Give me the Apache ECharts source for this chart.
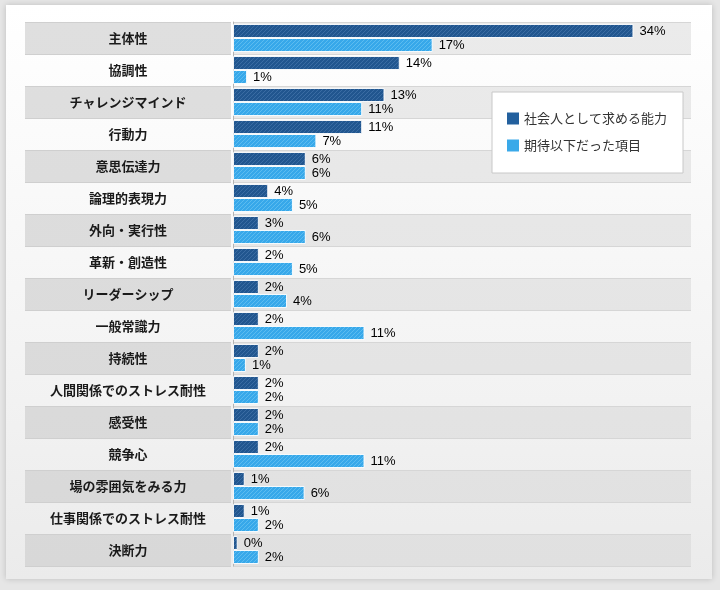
<!DOCTYPE html>
<html>
<head>
<meta charset="utf-8">
<script src="https://cdn.jsdelivr.net/npm/echarts@6/dist/echarts.min.js"></script>
<style>
  html, body { margin: 0; padding: 0; background: #e6e6e6; }
  #wrap { position: relative; width: 720px; height: 590px; overflow: hidden; }
  #panel {
    position: absolute; left: 6px; top: 5px; width: 706px; height: 574px;
    background: linear-gradient(#ffffff 0%, #f4f4f4 60%, #ebebeb 100%);
    box-shadow: 0 0 6px rgba(0, 0, 0, 0.18);
  }
  #main { position: absolute; left: 0; top: 0; width: 720px; height: 590px; }
</style>
</head>
<body>
<div id="wrap">
  <div id="panel"></div>
  <div id="main"></div>
</div>
<script>
// 項目
var categories = ['主体性', '協調性', 'チャレンジマインド', '行動力', '意思伝達力', '論理的表現力',
  '外向・実行性', '革新・創造性', 'リーダーシップ', '一般常識力', '持続性', '人間関係でのストレス耐性',
  '感受性', '競争心', '場の雰囲気をみる力', '仕事関係でのストレス耐性', '決断力'];

var seriesNames = ['社会人として求める能力', '期待以下だった項目'];

// 棒の長さ(%)
var demandValues = [34.1, 14.2, 12.9, 11.0, 6.2, 3.0, 2.2, 2.2, 2.2, 2.2, 2.2, 2.2, 2.2, 2.2, 1.0, 1.0, 0.4];
var belowValues = [17.0, 1.2, 11.0, 7.1, 6.2, 5.1, 6.2, 5.1, 4.6, 11.2, 1.1, 2.2, 2.2, 11.2, 6.1, 2.2, 2.2];

// 表示ラベル
var demandLabels = ['34%', '14%', '13%', '11%', '6%', '4%', '3%', '2%', '2%', '2%', '2%', '2%', '2%', '2%', '1%', '1%', '0%'];
var belowLabels = ['17%', '1%', '11%', '7%', '6%', '5%', '6%', '5%', '4%', '11%', '1%', '2%', '2%', '11%', '6%', '2%', '2%'];

var xMax = 39;

// 斜線パターン
function stripe(base, line) {
  var c = document.createElement('canvas');
  c.width = 4; c.height = 4;
  var ctx = c.getContext('2d');
  ctx.fillStyle = base;
  ctx.fillRect(0, 0, 4, 4);
  ctx.fillStyle = line;
  for (var x = 0; x < 4; x++) {
    for (var y = 0; y < 4; y++) {
      if ((x + y) % 4 == 3) ctx.fillRect(x, y, 1, 1);
    }
  }
  return c;
}

var chart = echarts.init(document.getElementById('main'));

var top0 = 22, rowsH = categories.length * 32;

function vgrad(a, b) {
  return { type: 'linear', x: 0, y: top0, x2: 0, y2: top0 + rowsH, global: true,
    colorStops: [{ offset: 0, color: a }, { offset: 1, color: b }] };
}

var labelStyle = {
  show: true,
  position: 'right',
  distance: 6,
  fontSize: 13,
  fontFamily: '"Liberation Sans", Arial, sans-serif',
  color: '#000'
};

var option = {
  animation: false,
  legend: {
    orient: 'vertical',
    left: 492,
    top: 92,
    width: 190,
    padding: [20, 16, 21, 15],
    itemGap: 14,
    itemWidth: 12,
    itemHeight: 12,
    backgroundColor: '#ffffff',
    borderColor: '#c8c8c8',
    borderWidth: 1,
    textStyle: { fontSize: 13, color: '#333', fontFamily: '"Noto Sans CJK JP", sans-serif' },
    data: [
      { name: seriesNames[0], icon: 'rect', itemStyle: { color: '#23609e', borderWidth: 0 } },
      { name: seriesNames[1], icon: 'rect', itemStyle: { color: '#3aa9e9', borderWidth: 0 } }
    ]
  },
  grid: [
    { left: 25, top: top0, width: 206, height: rowsH },
    { left: 233, top: top0, right: 29, height: rowsH }
  ],
  xAxis: [
    { gridIndex: 0, type: 'value', min: 0, max: 1, show: false },
    { gridIndex: 1, type: 'value', min: 0, max: xMax, show: false }
  ],
  yAxis: [
    {
      gridIndex: 0,
      type: 'category',
      inverse: true,
      data: categories,
      axisLine: { show: false },
      axisTick: { show: false },
      axisLabel: {
        margin: -103,
        align: 'center',
        fontSize: 13,
        fontWeight: 'bold',
        color: '#1a1a1a',
        fontFamily: '"Noto Sans CJK JP", sans-serif'
      },
      splitLine: { show: true, lineStyle: { color: '#cfcfcf' } },
      splitArea: { show: true, areaStyle: { color: [vgrad('#dfdfdf', '#d8d8d8'), 'rgba(0,0,0,0)'] } }
    },
    {
      gridIndex: 1,
      type: 'category',
      inverse: true,
      data: categories,
      offset: 1.5,
      axisLine: { show: true, lineStyle: { color: '#b4b4b4' } },
      axisTick: { show: false },
      axisLabel: { show: false },
      splitLine: { show: true, lineStyle: { color: '#d6d6d6' } },
      splitArea: { show: true, areaStyle: { color: [vgrad('#ebebeb', '#e0e0e0'), 'rgba(0,0,0,0)'] } }
    }
  ],
  series: [
    {
      name: seriesNames[0],
      type: 'bar',
      xAxisIndex: 1,
      yAxisIndex: 1,
      barWidth: 14,
      barGap: '0%',
      data: demandValues,
      itemStyle: {
        color: { image: stripe('#21568f', '#3a6ca3'), repeat: 'repeat' },
        borderColor: 'rgba(255,255,255,0.9)',
        borderWidth: 1
      },
      label: Object.assign({}, labelStyle, {
        formatter: function (p) { return demandLabels[p.dataIndex]; }
      })
    },
    {
      name: seriesNames[1],
      type: 'bar',
      xAxisIndex: 1,
      yAxisIndex: 1,
      barWidth: 14,
      data: belowValues,
      itemStyle: {
        color: { image: stripe('#37a8ea', '#5cbcf0'), repeat: 'repeat' },
        borderColor: 'rgba(255,255,255,0.9)',
        borderWidth: 1
      },
      label: Object.assign({}, labelStyle, {
        formatter: function (p) { return belowLabels[p.dataIndex]; }
      })
    }
  ]
};

chart.setOption(option);
</script>
</body>
</html>
